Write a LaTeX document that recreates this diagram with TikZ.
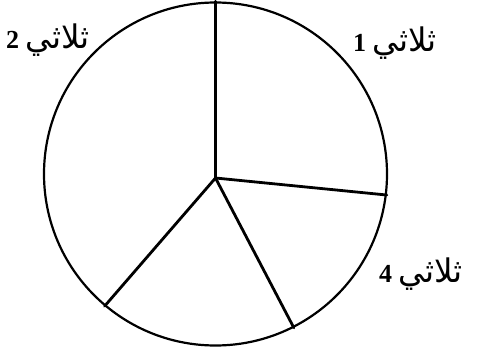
\documentclass[tikz,border=0pt]{standalone}
\usepackage{fontspec}
\setmainfont{Liberation Serif}
\newfontfamily\arabicfont[Script=Arabic,Scale=1.25]{DejaVu Sans}
\TeXXeTstate=1
\usetikzlibrary{positioning}
\tikzset{rim/.style={circle,draw=black,line width=2.2pt,minimum size=343pt,inner sep=0pt},spoke/.style={line width=2.8pt,draw=black,line cap=round},tag/.style={font=\fontsize{26}{30}\selectfont,inner sep=0pt,anchor=east}}
\begin{document}
\begin{tikzpicture}[x=1pt,y=-1pt]
\useasboundingbox (0,0) rectangle (479,353);
\node[rim] (disc) at (215.5,174) {};
\coordinate (hub) at (215.5,178);
\draw[spoke] (hub)--(disc.90);
\draw[spoke] (hub)--(disc.-7);
\draw[spoke] (hub)--(disc.-63.6);
\draw[spoke] (hub)--(disc.230.6);
\node[tag] (third2) at (90,40) {\textbf{2}\hspace{6pt}{\arabicfont\beginR ثلاثي\endR}};
\node[tag] (third1) at (437,43) {\textbf{1}\hspace{6pt}{\arabicfont\beginR ثلاثي\endR}};
\node[tag] (third4) at (463,274) {\textbf{4}\hspace{6pt}{\arabicfont\beginR ثلاثي\endR}};
\end{tikzpicture}
\end{document}
